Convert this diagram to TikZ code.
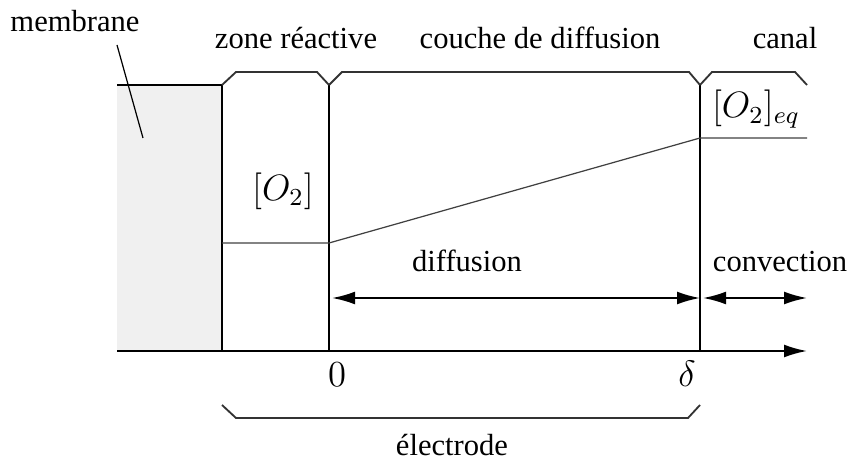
\documentclass[tikz,border=0pt]{standalone}
\usepackage{fontspec}
\setmainfont{Liberation Serif}
\usetikzlibrary{arrows.meta}
\begin{document}
\begin{tikzpicture}
[
    x=0.327pt, y=-0.327pt,
    wall/.style={line width=0.65pt},
    level/.style={line width=0.4pt, black!75},
    brace/.style={line width=0.6pt, black!80},
    tip/.style={-{Latex[length=7.5pt,width=4.2pt]}},
    span/.style={line width=0.6pt, {Latex[length=7.5pt,width=4.2pt]}-{Latex[length=7.5pt,width=4.2pt]}},
    lbl/.style={inner sep=0pt, anchor=base},
    conc/.style={inner sep=0pt, font=\large}
]
    \useasboundingbox (0,0) rectangle (856,461);

    \coordinate (mt) at (117,85);
    \coordinate (rt) at (222,85);
    \coordinate (zt) at (329,85);
    \coordinate (dt) at (700,85);
    \coordinate (ct) at (807,85);
    \coordinate (mb) at (117,351);
    \coordinate (rb) at (222,351);
    \coordinate (zb) at (329,351);
    \coordinate (db) at (700,351);
    \coordinate (xe) at (807,351);

    % membrane
    \fill[black!6] (mt) rectangle (rb);
    \draw[wall] (mt) -- (rt);
    \draw[wall] (rt) -- (rb) (zt) -- (zb) (dt) -- (db);
    \draw[wall, tip] (mb) -- (xe);

    % zones
    \draw[brace] (rt) -- ++(14,-13) -- ++(81,0) -- (zt);
    \draw[brace] (zt) -- ++(13,-13) -- ++(347,0) -- (dt);
    \draw[brace] (dt) -- ++(12,-13) -- ++(83,0) -- (ct);

    \coordinate (el) at (222,405);
    \coordinate (er) at (700,405);
    \draw[brace] (el) -- ++(14,13) -- ++(452,0) -- (er);

    % profil de concentration
    \coordinate (c1) at (222,243);
    \coordinate (c2) at (329,243);
    \coordinate (c3) at (700,138);
    \coordinate (c4) at (807,138);
    \draw[level] (c1) -- (c2) -- (c3) -- (c4);

    \coordinate (a0) at (329,298);
    \coordinate (ad) at (700,298);
    \coordinate (ac) at (807,298);
    \draw[span, shorten <=1pt] (a0) -- (ad);
    \draw[span, shorten <=1pt] (ad) -- (ac);

    \node[lbl] (membrane) at (75,32) {membrane};
    \coordinate (mh) at (117,45);
    \coordinate (mp) at (143,138);
    \draw[line width=0.4pt] (mh) -- (mp);

    \node[lbl] (zone) at (296,49) {zone réactive};
    \node[lbl] (couche) at (540,49) {couche de diffusion};
    \node[lbl] (canal) at (785,49) {canal};
    \node[conc] (o2) at (283,191) {$[O_2]$};
    \node[conc] (o2eq) at (756,109) {$[O_2]_{eq}$};
    \node[lbl] (diff) at (467,271) {diffusion};
    \node[lbl] (conv) at (780,271) {convection};
    \node[lbl, font=\large] (zero) at (337,386) {$0$};
    \node[lbl, font=\large] (delta) at (687,386) {$\delta$};
    \node[lbl] (electrode) at (452,455) {électrode};
\end{tikzpicture}
\end{document}
